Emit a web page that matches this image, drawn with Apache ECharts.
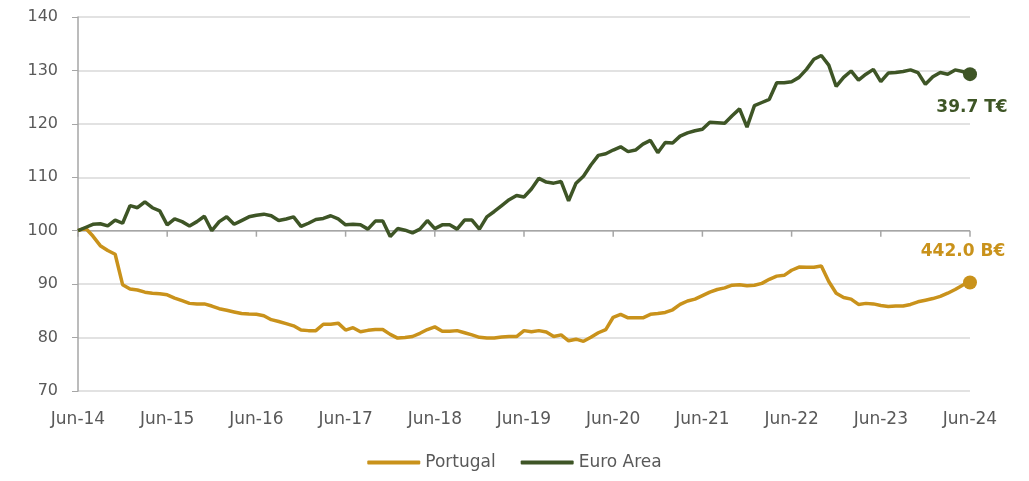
<!DOCTYPE html>
<html>
<head>
<meta charset="utf-8">
<script src="https://cdn.jsdelivr.net/npm/echarts@6/dist/echarts.min.js"></script>
<style>
html,body{margin:0;padding:0;background:#fff;}
#chart{width:1029px;height:481px;}
</style>
</head>
<body>
<div id="chart"></div>
<script>
const monthNames = ['Jan','Feb','Mar','Apr','May','Jun','Jul','Aug','Sep','Oct','Nov','Dec'];
const tickLabels = ['Jun-14','Jun-15','Jun-16','Jun-17','Jun-18','Jun-19','Jun-20','Jun-21','Jun-22','Jun-23','Jun-24'];
const seriesNames = ['Portugal', 'Euro Area'];
const endLabels = ['442.0 B€', '39.7 T€'];

const portugal = [
  100.0, 100.5, 99.0, 97.2, 96.3, 95.6, 89.9, 89.1, 88.9, 88.5, 88.3, 88.2,
  88.0, 87.4, 86.9, 86.4, 86.3, 86.3, 85.9, 85.4, 85.1, 84.8, 84.5, 84.4,
  84.35, 84.1, 83.35, 83.0, 82.6, 82.2, 81.4, 81.3, 81.3, 82.5, 82.5, 82.7,
  81.4, 81.85, 81.1, 81.35, 81.5, 81.5, 80.6, 79.9, 80.0, 80.2, 80.8, 81.5,
  82.0, 81.2, 81.2, 81.3, 80.9, 80.5, 80.05, 79.9, 79.9, 80.1, 80.2, 80.2,
  81.3, 81.1, 81.3, 81.05, 80.2, 80.5, 79.4, 79.7, 79.3, 80.05, 80.9, 81.5,
  83.8, 84.35, 83.7, 83.7, 83.7, 84.35, 84.5, 84.7, 85.2, 86.2, 86.85, 87.2,
  87.85, 88.5, 89.0, 89.3, 89.8, 89.9, 89.7, 89.8, 90.15, 90.9, 91.5, 91.65,
  92.6, 93.2, 93.15, 93.15, 93.4, 90.5, 88.3, 87.5, 87.2, 86.2, 86.4, 86.3,
  86.0, 85.8, 85.9, 85.9, 86.2, 86.7, 87.0, 87.3, 87.7, 88.3, 89.0, 89.8,
  90.3
];

const euroArea = [
  100.0, 100.6, 101.2, 101.3, 100.9, 102.0, 101.4, 104.7, 104.3, 105.4, 104.3, 103.7,
  101.1, 102.2, 101.7, 100.9, 101.7, 102.7, 100.0, 101.7, 102.6, 101.2, 101.9, 102.6,
  102.9, 103.1, 102.8, 101.9, 102.2, 102.6, 100.8, 101.4, 102.1, 102.3, 102.8, 102.2,
  101.1, 101.2, 101.1, 100.3, 101.8, 101.8, 98.9, 100.4, 100.1, 99.6, 100.3, 101.9,
  100.4, 101.1, 101.1, 100.3, 102.0, 102.0, 100.3, 102.6, 103.6, 104.7, 105.8, 106.6,
  106.3, 107.8, 109.8, 109.1, 108.9, 109.2, 105.6, 108.9, 110.2, 112.3, 114.1, 114.4,
  115.1, 115.7, 114.8, 115.1, 116.2, 116.9, 114.6, 116.5, 116.4, 117.7, 118.3, 118.7,
  119.0, 120.3, 120.2, 120.1, 121.5, 122.8, 119.4, 123.4, 124.0, 124.6, 127.7, 127.7,
  127.9, 128.7, 130.2, 132.1, 132.8, 131.0, 127.0, 128.7, 129.9, 128.2, 129.3, 130.2,
  127.9, 129.5, 129.6, 129.8, 130.1, 129.6, 127.4, 128.8, 129.6, 129.3, 130.1, 129.8,
  129.3
];

const yMin = 70, yMax = 140, yStep = 10, baseLine = 100;

const categories = [];
for (let k = 0; k < portugal.length; k++) {
  const m = (5 + k) % 12;
  const yr = 14 + Math.floor((5 + k) / 12);
  categories.push(monthNames[m] + '-' + yr);
}

const GOLD = '#C9921B';
const GREEN = '#3E5526';
const AXIS = '#A6A6A6';
const GRIDC = '#D9D9D9';
const TEXT = '#595959';
const FONT = 'DejaVu Sans';
const last = portugal.length - 1;

// baseline axis at 100 with yearly ticks pointing down, drawn through the axes
const tickIdx = tickLabels.map(function (_, t) { return t * 12; });

const chart = echarts.init(document.getElementById('chart'), null, {renderer: 'canvas'});
chart.setOption({
  animation: false,
  backgroundColor: '#ffffff',
  grid: {left: 78, right: 59, top: 17, bottom: 90, containLabel: false},
  legend: {
    data: seriesNames,
    bottom: 5,
    left: 'center',
    itemWidth: 53,
    itemHeight: 4,
    itemGap: 25,
    icon: 'roundRect',
    textStyle: {fontFamily: FONT, fontSize: 17, color: TEXT}
  },
  xAxis: {
    type: 'category',
    data: categories,
    boundaryGap: false,
    axisLine: {show: false},
    axisTick: {show: false},
    splitLine: {show: false},
    axisLabel: {
      interval: 11,
      margin: 20,
      fontFamily: FONT,
      fontSize: 17,
      color: TEXT,
      formatter: function (v, i) { return tickLabels[i / 12]; }
    }
  },
  yAxis: {
    type: 'value',
    min: yMin,
    max: yMax,
    interval: yStep,
    axisLine: {show: true, lineStyle: {color: AXIS, width: 1.5}},
    axisTick: {show: true, length: 6, lineStyle: {color: AXIS, width: 1}},
    splitLine: {show: true, lineStyle: {color: GRIDC, width: 1.5}},
    axisLabel: {margin: 20, fontFamily: FONT, fontSize: 16, color: TEXT}
  },
  series: [
    {
      name: 'axis100',
      type: 'line',
      data: categories.map(function () { return baseLine; }),
      showSymbol: false,
      symbol: 'none',
      silent: true,
      lineStyle: {color: AXIS, width: 1.5},
      z: 2
    },
    {
      name: 'ticks100',
      type: 'scatter',
      data: tickIdx.map(function (i) { return [i, baseLine]; }),
      symbol: 'rect',
      symbolSize: [1.5, 6],
      symbolOffset: [0, 3],
      silent: true,
      itemStyle: {color: AXIS, opacity: 1},
      z: 2
    },
    {
      name: seriesNames[0],
      type: 'line',
      data: portugal,
      showSymbol: false,
      symbol: 'none',
      lineStyle: {color: GOLD, width: 3.5},
      itemStyle: {color: GOLD},
      z: 3
    },
    {
      name: seriesNames[1],
      type: 'line',
      data: euroArea,
      showSymbol: false,
      symbol: 'none',
      lineStyle: {color: GREEN, width: 3.5},
      itemStyle: {color: GREEN},
      z: 4
    },
    {
      name: 'pt-end',
      type: 'scatter',
      data: [[last, portugal[last]]],
      symbol: 'circle',
      symbolSize: 14,
      itemStyle: {color: GOLD, opacity: 1},
      z: 5,
      label: {
        show: true,
        position: 'inside',
        offset: [-7, -31],
        formatter: endLabels[0],
        fontFamily: FONT,
        fontWeight: 'bold',
        fontSize: 17,
        color: GOLD
      }
    },
    {
      name: 'ea-end',
      type: 'scatter',
      data: [[last, euroArea[last]]],
      symbol: 'circle',
      symbolSize: 14,
      itemStyle: {color: GREEN, opacity: 1},
      z: 5,
      label: {
        show: true,
        position: 'inside',
        offset: [2, 33],
        formatter: endLabels[1],
        fontFamily: FONT,
        fontWeight: 'bold',
        fontSize: 17,
        color: GREEN
      }
    }
  ]
});
</script>
</body>
</html>
